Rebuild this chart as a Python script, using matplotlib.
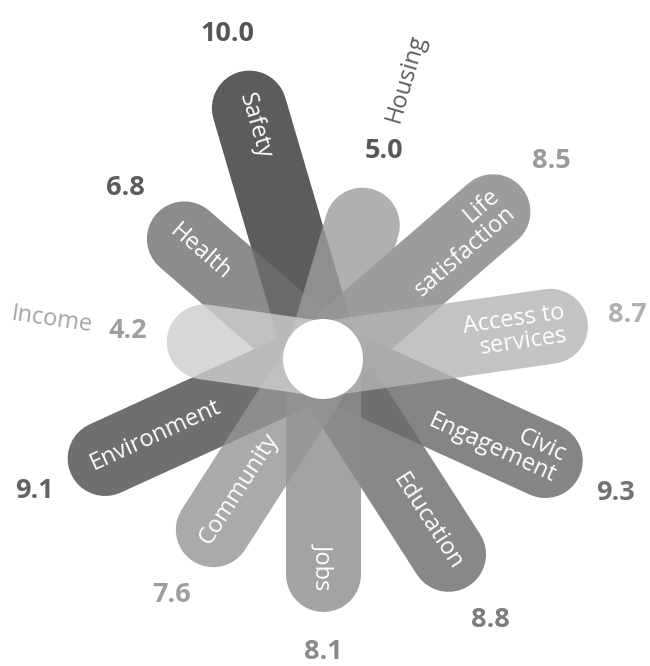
import numpy as np
import matplotlib.pyplot as plt
from matplotlib.patches import Circle

# ----------------------------
# Data (clockwise from Housing)
# ----------------------------
categories = ["Housing", "Life\nsatisfaction", "Access to\nservices", "Civic\nEngagement",
              "Education", "Jobs", "Community", "Environment", "Income", "Health", "Safety"]
values = [5.0, 8.5, 8.7, 9.3, 8.8, 8.1, 7.6, 9.1, 4.2, 6.8, 10.0]

# apparent grey level of each petal / value label (0-255)
petal_grey = [176, 156, 196, 133, 136, 163, 170, 111, 216, 140, 92]
value_grey = [88, 154, 176, 115, 125, 138, 158, 98, 158, 92, 85]

# ----------------------------
# Geometry
# ----------------------------
W, H = 650, 666
cx, cy = 323, 359
petal_w = 75          # px
alpha = 0.8
n = len(values)
step = 360 / n
angles = [90 - step / 2 - k * step for k in range(n)]


def tip_len(v):
    # distance from centre to the rounded tip, px
    return 55 + 24.4 * v


def grey(level, a=1.0):
    c = (level - (1 - a) * 255) / a / 255
    c = min(max(c, 0), 1)
    return (c, c, c)


fig = plt.figure(figsize=(W / 100, H / 100), dpi=100)
ax = fig.add_axes([0, 0, 1, 1])
ax.set_xlim(0, W)
ax.set_ylim(H, 0)
ax.axis("off")

lw = petal_w * 72 / 100
font = ["Open Sans", "DejaVu Sans"]

# petals, darkest first so the light ones sit on top
for i in np.argsort(petal_grey):
    th = np.deg2rad(angles[i])
    ux, uy = np.cos(th), -np.sin(th)
    end = tip_len(values[i]) - petal_w / 2
    ax.plot([cx, cx + end * ux], [cy, cy + end * uy], color=grey(petal_grey[i], alpha),
            alpha=alpha, lw=lw, solid_capstyle="round", zorder=2)

# white centre
ax.add_patch(Circle((cx, cy), 40, facecolor="white", edgecolor="none", zorder=4))

# labels
for i in range(n):
    th = np.deg2rad(angles[i])
    ux, uy = np.cos(th), -np.sin(th)
    tip = tip_len(values[i])
    left = ux < -0.01
    rot = angles[i] + 180 if left else angles[i]
    if rot > 180:
        rot -= 360

    # value
    d = tip + 40
    ax.text(cx + d * ux, cy + d * uy, f"{values[i]:.1f}", ha="center", va="center",
            fontsize=19.5, fontweight="bold", color=grey(value_grey[i]), family=font, zorder=6)

    if values[i] < 5.5:
        # short petal: name outside, past the value
        d = tip + 116
        ax.text(cx + d * ux, cy + d * uy, categories[i], ha="center", va="center",
                rotation=rot, rotation_mode="anchor", fontsize=17,
                color=grey(value_grey[i] + 5), family=font, zorder=6)
    else:
        d = tip - 22
        ax.text(cx + d * ux, cy + d * uy, categories[i],
                ha="left" if left else "right", va="center",
                multialignment="left" if left else "right",
                rotation=rot, rotation_mode="anchor", fontsize=17, linespacing=0.95,
                color="white", family=font, zorder=6)

fig.savefig("out.png", dpi=100)
